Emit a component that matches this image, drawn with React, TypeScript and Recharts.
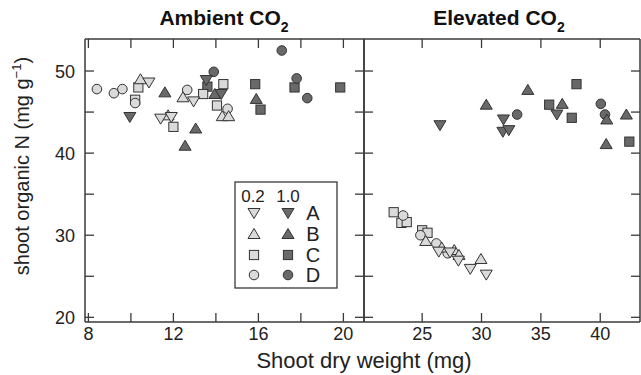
import React from 'react'
import { ScatterChart, Scatter, XAxis, YAxis } from 'recharts'

type Pt = { x: number; y: number }

// ambient CO2 panel, 0.2 treatment (open / light symbols)
const ambA02: Pt[] = [
  { x: 10.85, y: 48.6 }, { x: 11.4, y: 44.2 }, { x: 11.9, y: 44.4 }, { x: 12.95, y: 46.3 },
]
const ambB02: Pt[] = [
  { x: 10.45, y: 49.0 }, { x: 11.75, y: 44.6 }, { x: 12.45, y: 46.8 }, { x: 14.3, y: 44.5 }, { x: 14.6, y: 44.5 },
]
const ambC02: Pt[] = [
  { x: 10.35, y: 48.0 }, { x: 10.2, y: 46.5 }, { x: 12.0, y: 43.2 }, { x: 13.4, y: 47.2 },
  { x: 14.35, y: 48.4 }, { x: 14.05, y: 45.8 },
]
const ambD02: Pt[] = [
  { x: 8.4, y: 47.8 }, { x: 9.2, y: 47.3 }, { x: 9.6, y: 47.8 }, { x: 10.2, y: 46.1 },
  { x: 12.65, y: 47.7 }, { x: 14.55, y: 45.4 },
]
// ambient CO2 panel, 1.0 treatment (dark symbols)
const ambA10: Pt[] = [
  { x: 9.95, y: 44.4 }, { x: 13.55, y: 48.9 }, { x: 14.25, y: 47.2 },
]
const ambB10: Pt[] = [
  { x: 11.6, y: 47.4 }, { x: 13.05, y: 43.0 }, { x: 12.55, y: 40.9 }, { x: 13.95, y: 47.2 }, { x: 15.9, y: 46.6 },
]
const ambC10: Pt[] = [
  { x: 13.6, y: 48.1 }, { x: 15.85, y: 48.4 }, { x: 16.1, y: 45.3 }, { x: 17.7, y: 48.0 }, { x: 19.85, y: 48.0 },
]
const ambD10: Pt[] = [
  { x: 13.9, y: 49.9 }, { x: 17.1, y: 52.5 }, { x: 17.8, y: 49.1 }, { x: 18.3, y: 46.7 },
]

// elevated CO2 panel
const elvA02: Pt[] = [
  { x: 26.4, y: 28.0 }, { x: 27.35, y: 27.9 }, { x: 28.05, y: 26.9 }, { x: 29.05, y: 25.9 }, { x: 30.4, y: 25.2 },
]
const elvB02: Pt[] = [
  { x: 25.3, y: 29.3 }, { x: 26.65, y: 28.5 }, { x: 27.7, y: 28.2 }, { x: 28.1, y: 27.6 }, { x: 29.95, y: 27.1 },
]
const elvC02: Pt[] = [
  { x: 22.6, y: 32.8 }, { x: 23.25, y: 31.5 }, { x: 23.7, y: 31.6 }, { x: 25.0, y: 30.6 }, { x: 25.45, y: 30.3 },
]
const elvD02: Pt[] = [
  { x: 23.4, y: 32.4 }, { x: 24.85, y: 30.0 }, { x: 26.2, y: 29.0 }, { x: 27.15, y: 27.8 },
]
const elvA10: Pt[] = [
  { x: 26.5, y: 43.4 }, { x: 31.85, y: 44.1 }, { x: 31.8, y: 42.6 }, { x: 32.3, y: 42.8 }, { x: 36.35, y: 44.7 },
]
const elvB10: Pt[] = [
  { x: 30.4, y: 45.9 }, { x: 33.9, y: 47.7 }, { x: 36.8, y: 46.0 }, { x: 40.55, y: 44.1 },
  { x: 42.2, y: 44.7 }, { x: 40.5, y: 41.1 },
]
const elvC10: Pt[] = [
  { x: 35.7, y: 45.9 }, { x: 38.0, y: 48.4 }, { x: 37.6, y: 44.3 }, { x: 42.45, y: 41.4 },
]
const elvD10: Pt[] = [
  { x: 33.0, y: 44.7 }, { x: 40.05, y: 46.0 }, { x: 40.4, y: 44.7 },
]

const yTicks = [20, 25, 30, 35, 40, 45, 50]
const yLabels = [20, 30, 40, 50]
const ambTicks = [8, 10, 12, 14, 16, 18, 20]
const ambLabels = [8, 12, 16, 20]
const elvTicks = [25, 30, 35, 40]
const groups = ['A', 'B', 'C', 'D']
const levels = ['0.2', '1.0']

const FONT = '"Liberation Sans", Arial, sans-serif'
const AXIS = '#3a3a3a'
const LIGHT = '#dadada'
const DARK = '#696969'
const TL = 9

type Kind = 'down' | 'up' | 'square' | 'circle'
const kinds: Kind[] = ['down', 'up', 'square', 'circle']

function Marker({ cx, cy, kind, fill }: { cx: number; cy: number; kind: Kind; fill: string }) {
  const st = { fill, stroke: '#333', strokeWidth: 1 }
  if (kind === 'circle') return <circle cx={cx} cy={cy} r={4.8} {...st} />
  if (kind === 'square') return <rect x={cx - 4.6} y={cy - 4.6} width={9.2} height={9.2} {...st} />
  if (kind === 'up')
    return <polygon points={`${cx},${cy - 5.5} ${cx + 6},${cy + 4.5} ${cx - 6},${cy + 4.5}`} {...st} />
  return <polygon points={`${cx - 6},${cy - 4.5} ${cx + 6},${cy - 4.5} ${cx},${cy + 5.5}`} {...st} />
}

// inward tick marks, labels drawn outside the frame
function makeTick(side: 'left' | 'right' | 'top' | 'bottom', labels: number[] = []) {
  return (p: any) => {
    const { x, y, payload } = p
    const v = payload.value
    const show = labels.includes(v)
    if (side === 'left')
      return (
        <g>
          <line x1={x} y1={y} x2={x + TL} y2={y} stroke={AXIS} strokeWidth={1.3} />
          {show && (
            <text x={x - 10} y={y + 6.5} textAnchor="end" fontSize={18} fontFamily={FONT} fill="#222">{v}</text>
          )}
        </g>
      )
    if (side === 'right') return <line x1={x} y1={y} x2={x - TL} y2={y} stroke={AXIS} strokeWidth={1.3} />
    if (side === 'top') return <line x1={x} y1={y} x2={x} y2={y + TL} stroke={AXIS} strokeWidth={1.3} />
    return (
      <g>
        <line x1={x} y1={y} x2={x} y2={y - TL} stroke={AXIS} strokeWidth={1.3} />
        {show && (
          <text x={x} y={y + 18} textAnchor="middle" fontSize={18} fontFamily={FONT} fill="#222">{v}</text>
        )}
      </g>
    )
  }
}

const Y_DOMAIN: [number, number] = [19.43, 53.9]
const axisLine = { stroke: AXIS, strokeWidth: 1.5 }

function Panel({ width, left, right, domain, ticks, labels, series, showYLabels }: any) {
  return (
    <ScatterChart width={width} height={375} margin={{ top: 38, bottom: 52, left, right }}>
      <XAxis type="number" dataKey="x" domain={domain} ticks={ticks} interval={0} allowDataOverflow
        height={1} tickSize={0} tickMargin={0} tick={makeTick('bottom', labels)}
        axisLine={axisLine} tickLine={false} />
      <XAxis xAxisId="top" orientation="top" type="number" dataKey="x" domain={domain} ticks={ticks} interval={0}
        allowDataOverflow height={1} tickSize={0} tickMargin={0} tick={makeTick('top')}
        axisLine={axisLine} tickLine={false} />
      <YAxis type="number" dataKey="y" domain={Y_DOMAIN} ticks={yTicks} interval={0} allowDataOverflow
        width={1} tickSize={0} tickMargin={0} tick={makeTick('left', showYLabels ? yLabels : [])}
        axisLine={axisLine} tickLine={false} />
      <YAxis yAxisId="r" orientation="right" type="number" dataKey="y" domain={Y_DOMAIN} ticks={yTicks} interval={0}
        allowDataOverflow width={1} tickSize={0} tickMargin={0} tick={makeTick('right')}
        axisLine={axisLine} tickLine={false} />
      {series.map((s: any, i: number) => (
        <Scatter key={i} data={s.data} isAnimationActive={false}
          shape={(p: any) => <Marker cx={p.cx} cy={p.cy} kind={s.kind} fill={s.fill} />} />
      ))}
    </ScatterChart>
  )
}

const ambSeries = [
  { data: ambC10, kind: 'square', fill: DARK },
  { data: ambD10, kind: 'circle', fill: DARK },
  { data: ambB10, kind: 'up', fill: DARK },
  { data: ambA10, kind: 'down', fill: DARK },
  { data: ambC02, kind: 'square', fill: LIGHT },
  { data: ambD02, kind: 'circle', fill: LIGHT },
  { data: ambB02, kind: 'up', fill: LIGHT },
  { data: ambA02, kind: 'down', fill: LIGHT },
]
const elvSeries = [
  { data: elvC10, kind: 'square', fill: DARK },
  { data: elvD10, kind: 'circle', fill: DARK },
  { data: elvB10, kind: 'up', fill: DARK },
  { data: elvA10, kind: 'down', fill: DARK },
  { data: elvC02, kind: 'square', fill: LIGHT },
  { data: elvD02, kind: 'circle', fill: LIGHT },
  { data: elvB02, kind: 'up', fill: LIGHT },
  { data: elvA02, kind: 'down', fill: LIGHT },
]

export default function App() {
  const rows = [213, 234, 255, 275]
  return (
    <div style={{ position: 'absolute', left: 0, top: 0, width: 641, height: 375, background: '#fff', fontFamily: FONT }}>
      <div style={{ position: 'absolute', left: 0, top: 0 }}>
        <Panel width={365} left={84} right={0} domain={[7.84, 20.97]} ticks={ambTicks} labels={ambLabels}
          series={ambSeries} showYLabels />
      </div>
      <div style={{ position: 'absolute', left: 363, top: 0 }}>
        <Panel width={278} left={0} right={0} domain={[20.1, 43.35]} ticks={elvTicks} labels={elvTicks}
          series={elvSeries} showYLabels={false} />
      </div>
      <svg width={641} height={375} style={{ position: 'absolute', left: 0, top: 0, pointerEvents: 'none' }}>
        <text x={224} y={25} textAnchor="middle" fontSize={21} fontWeight="bold" fontFamily={FONT} fill="#111">
          Ambient CO<tspan fontSize={14} dy={7}>2</tspan>
        </text>
        <text x={499} y={25} textAnchor="middle" fontSize={21} fontWeight="bold" fontFamily={FONT} fill="#111">
          Elevated CO<tspan fontSize={14} dy={7}>2</tspan>
        </text>
        <text x={364} y={368} textAnchor="middle" fontSize={22} fontFamily={FONT} fill="#222">
          Shoot dry weight (mg)
        </text>
        <text transform="translate(29,166) rotate(-90)" textAnchor="middle" fontSize={20} fontFamily={FONT} fill="#222">
          shoot organic N (mg g<tspan fontSize={13} dy={-8}>−1</tspan><tspan dy={8}>)</tspan>
        </text>
        <rect x={235} y={182} width={102} height={106} fill="#fff" stroke={AXIS} strokeWidth={1.3} />
        {levels.map((l, i) => (
          <text key={l} x={i === 0 ? 253 : 288} y={202} textAnchor="middle" fontSize={17} fontFamily={FONT} fill="#222">{l}</text>
        ))}
        {groups.map((g, i) => (
          <g key={g}>
            <Marker cx={254} cy={rows[i]} kind={kinds[i]} fill={LIGHT} />
            <Marker cx={288} cy={rows[i]} kind={kinds[i]} fill={DARK} />
            <text x={313} y={rows[i] + 7} textAnchor="middle" fontSize={20} fontFamily={FONT} fill="#222">{g}</text>
          </g>
        ))}
      </svg>
    </div>
  )
}
